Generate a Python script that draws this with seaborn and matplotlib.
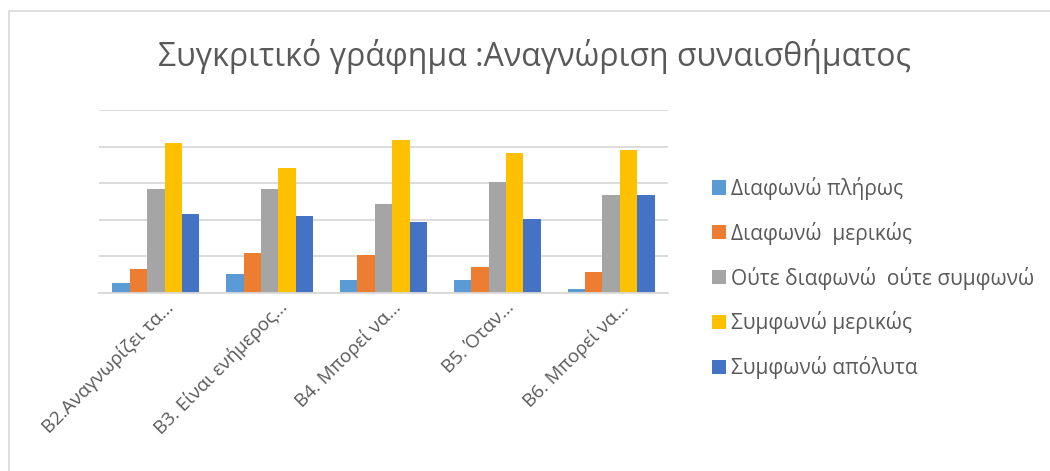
import pandas as pd
import numpy as np
import matplotlib.pyplot as plt
import matplotlib.transforms as mtransforms
import seaborn as sns
from matplotlib.lines import Line2D
from matplotlib.patches import Patch

# percentages per statement
questions = ['B2.Αναγνωρίζει τα...', 'B3. Είναι ενήμερος...', 'B4. Μπορεί να...',
             'B5. Όταν...', 'B6. Μπορεί να...']
answers = ['Διαφωνώ πλήρως', 'Διαφωνώ  μερικώς', 'Ούτε διαφωνώ  ούτε συμφωνώ',
           'Συμφωνώ μερικώς', 'Συμφωνώ απόλυτα']
diafono_pliros = [2.6, 5.1, 3.6, 3.6, 1.0]
diafono_merikos = [6.5, 11.0, 10.3, 7.0, 5.7]
oute_oute = [28.3, 28.3, 24.2, 30.3, 26.8]
symfono_merikos = [40.9, 34.1, 41.7, 38.2, 39.2]
symfono_apolyta = [21.5, 21.0, 19.3, 20.3, 26.8]
colors = ['#5B9BD5', '#ED7D31', '#A5A5A5', '#FFC000', '#4472C4']

series = [diafono_pliros, diafono_merikos, oute_oute, symfono_merikos, symfono_apolyta]
df = pd.DataFrame({
    'question': np.tile(questions, len(answers)),
    'answer': np.repeat(answers, len(questions)),
    'value': np.concatenate(series),
})

sns.set_style('white')
plt.rcParams['font.family'] = ['Open Sans', 'DejaVu Sans']
text_color = '#595959'
grid_color = '#D9D9D9'

fig = plt.figure(figsize=(10.5, 4.71), dpi=100)
ax = fig.add_axes([99 / 1050, 1 - 293 / 471, (668 - 99) / 1050, (293 - 110) / 471])

sns.barplot(data=df, x='question', y='value', hue='answer', hue_order=answers,
            palette=colors, width=0.766, gap=0, linewidth=0, saturation=1, ax=ax)

ax.set_ylim(0, 50)
ax.set_yticks(np.arange(0, 51, 10))
ax.yaxis.grid(True, color=grid_color, linewidth=1.3)
ax.set_axisbelow(True)
ax.tick_params(axis='y', left=False, labelleft=False)
ax.tick_params(axis='x', bottom=False, pad=0)
for s in ['top', 'right', 'left']:
    ax.spines[s].set_visible(False)
ax.spines['bottom'].set_color(grid_color)
ax.spines['bottom'].set_linewidth(1.3)
ax.set_xlabel('')
ax.set_ylabel('')
ax.set_xticks(range(len(questions)))
ax.set_xticklabels(questions, rotation=45, ha='right', rotation_mode='anchor',
                   fontsize=13.5, color=text_color)
shift = mtransforms.ScaledTranslation(8 / 100, 0, fig.dpi_scale_trans)
for lbl in ax.get_xticklabels():
    lbl.set_transform(lbl.get_transform() + shift)
ax.get_legend().remove()

handles = [Patch(facecolor=c, edgecolor='none') for c in colors]
fig.legend(handles, answers, loc='center left', bbox_to_anchor=(693 / 1050, 1 - 278 / 471),
           frameon=False, fontsize=15, labelcolor=text_color, handlelength=0.68,
           handleheight=0.68, handletextpad=0.25, labelspacing=1.05)

fig.text(535 / 1050, 1 - 57 / 471, 'Συγκριτικό γράφημα :Αναγνώριση συναισθήματος',
         ha='center', va='center', fontsize=23, color=text_color)

# chart border (only top and left edges fall inside the image)
fig.add_artist(Line2D([8.5 / 1050, 8.5 / 1050], [0, 1 - 11 / 471], color=grid_color,
                      linewidth=1.2, transform=fig.transFigure))
fig.add_artist(Line2D([8.5 / 1050, 1], [1 - 11 / 471, 1 - 11 / 471], color=grid_color,
                      linewidth=1.2, transform=fig.transFigure))

fig.savefig('out.png', dpi=100, facecolor='white')
